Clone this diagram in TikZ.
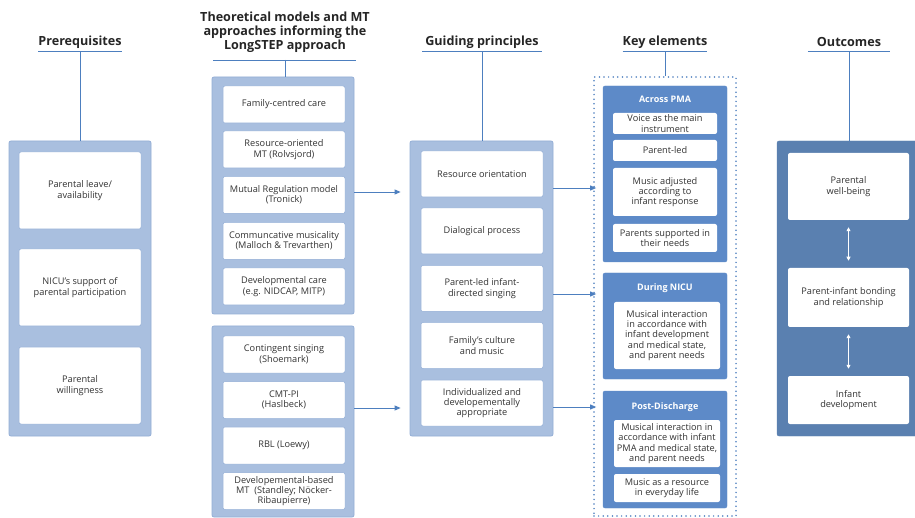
\documentclass[tikz,border=0pt]{standalone}
\usepackage{fontspec}
\setmainfont{Open Sans}
\usepackage{tikz}
\usetikzlibrary{positioning, arrows.meta}
\definecolor{paleblue}{HTML}{A9BFDF}
\definecolor{paleedge}{HTML}{93AED6}
\definecolor{midblue}{HTML}{5D8AC8}
\definecolor{outblue}{HTML}{5A80B0}
\definecolor{lineblue}{HTML}{4D7FBF}
\definecolor{txtgray}{HTML}{333333}

\tikzset{
    heading/.style={font=\bfseries\fontsize{12.6}{14}\selectfont, text=black!85, align=center, inner sep=0pt},
    panel/.style={fill=paleblue, draw=paleedge, line width=0.8pt, rounded corners=2pt},
    darkpanel/.style={fill=midblue, draw=midblue, rounded corners=2pt},
    outpanel/.style={fill=outblue, draw=outblue, rounded corners=2pt},
    item/.style={fill=white, draw=paleedge, line width=0.5pt, rounded corners=2pt, align=center,
        font=\fontsize{9.2}{10.3}\selectfont, text=txtgray, inner sep=1pt},
    paneltitle/.style={font=\bfseries\fontsize{9}{10}\selectfont, text=white, inner sep=0pt},
    link/.style={draw=lineblue, line width=0.9pt},
    arr/.style={link, -{Triangle[length=6pt, width=5pt]}},
    twoway/.style={white, line width=0.9pt, {Triangle[length=4pt, width=4pt]}-{Triangle[length=4pt, width=4pt]}, shorten <=7pt, shorten >=7pt}
}

\begin{document}
\begin{tikzpicture}[x=1pt, y=-1pt]
    \useasboundingbox[fill=white] (0,0) rectangle (915,518);

    % headings
    \node[heading, minimum width=81pt, minimum height=18pt] (hpre) at (80,42) {Prerequisites};
    \node[heading, minimum width=143pt] (htheo) at (285,32) {Theoretical models and MT\\approaches informing the\\LongSTEP approach};
    \node[heading, minimum width=119pt, minimum height=18pt] (hguide) at (482,42) {Guiding principles};
    \node[heading, minimum width=82pt, minimum height=18pt] (hkey) at (665,42) {Key elements};
    \node[heading, minimum width=82pt, minimum height=18pt] (hout) at (849,42) {Outcomes};
    \coordinate (htheoL) at (213,60);
    \coordinate (htheoR) at (356,60);

    % prerequisites
    \node[panel, minimum width=142pt, minimum height=295pt] (pre) at (80,288.5) {};
    \node[item, minimum width=122pt, minimum height=77pt] (pre1) at (80,190.5) {Parental leave/\\availability};
    \node[item, minimum width=122pt, minimum height=77pt] (pre2) at (80,287.5) {NICU's support of\\parental participation};
    \node[item, minimum width=122pt, minimum height=77pt] (pre3) at (80,385.5) {Parental\\willingness};

    % theoretical models
    \node[panel, minimum width=142pt, minimum height=237pt] (theoA) at (283,195.5) {};
    \node[item, minimum width=122pt, minimum height=37pt] (ta1) at (284,104.5) {Family-centred care};
    \node[item, minimum width=122pt, minimum height=37pt] (ta2) at (284,149.5) {Resource-oriented\\MT (Rolvsjord)};
    \node[item, minimum width=122pt, minimum height=37pt] (ta3) at (284,195) {Mutual Regulation model\\(Tronick)};
    \node[item, minimum width=122pt, minimum height=37pt] (ta4) at (284,241) {Communcative musicality\\(Malloch \& Trevarthen)};
    \node[item, minimum width=122pt, minimum height=37pt] (ta5) at (284,286.5) {Developmental care\\(e.g. NIDCAP, MITP)};

    \node[panel, minimum width=142pt, minimum height=191pt] (theoB) at (283,421.5) {};
    \node[item, minimum width=122pt, minimum height=37pt] (tb1) at (284,354.5) {Contingent singing\\(Shoemark)};
    \node[item, minimum width=122pt, minimum height=37pt] (tb2) at (284,400) {CMT-PI\\(Haslbeck)};
    \node[item, minimum width=122pt, minimum height=37pt] (tb3) at (284,445.5) {RBL (Loewy)};
    \node[item, minimum width=122pt, minimum height=37pt] (tb4) at (284,491) {Developemental-based\\MT\ \ (Standley; Nöcker-\\Ribaupierre)};

    % guiding principles
    \node[panel, minimum width=143pt, minimum height=295pt] (guide) at (481.5,288.5) {};
    \node[item, minimum width=122pt, minimum height=46pt] (gp1) at (482,174) {Resource orientation};
    \node[item, minimum width=122pt, minimum height=46pt] (gp2) at (482,231) {Dialogical process};
    \node[item, minimum width=122pt, minimum height=46pt] (gp3) at (482,288.5) {Parent-led infant-\\directed singing};
    \node[item, minimum width=122pt, minimum height=46pt] (gp4) at (482,345.5) {Family's culture\\and music};
    \node[item, minimum width=122pt, minimum height=46pt] (gp5) at (482,403) {Individualized and\\developementally\\appropriate};

    % key elements
    \node[draw=lineblue, line width=1.7pt, dash pattern=on 0pt off 4.6pt, line cap=round,
          minimum width=142pt, minimum height=439pt] (keys) at (665,296.5) {};

    \node[darkpanel, minimum width=124pt, minimum height=176pt] (pma) at (665,174) {};
    \node[paneltitle] (pmat) at (665,99) {Across PMA};
    \node[item, draw=none, minimum width=104pt, minimum height=21pt] (pma1) at (665,123.5) {Voice as the main\\instrument};
    \node[item, draw=none, minimum width=104pt, minimum height=21pt] (pma2) at (665,150.5) {Parent-led};
    \node[item, draw=none, minimum width=104pt, minimum height=48pt] (pma3) at (665,192) {Music adjusted\\according to\\infant response};
    \node[item, draw=none, minimum width=104pt, minimum height=28pt] (pma4) at (665,238) {Parents supported in\\their needs};

    \node[darkpanel, minimum width=124pt, minimum height=106pt] (nicu) at (665,326) {};
    \node[paneltitle] (nicut) at (665,288) {During NICU};
    \node[item, draw=none, minimum width=106pt, minimum height=67pt] (nicu1) at (667,335.5) {Musical interaction\\in accordance with\\infant development\\and medical state,\\and parent needs};

    \node[darkpanel, minimum width=124pt, minimum height=117pt] (post) at (665,449.5) {};
    \node[paneltitle] (postt) at (665,407) {Post-Discharge};
    \node[item, draw=none, minimum width=106pt, minimum height=47pt] (post1) at (667,443.5) {Musical interaction in\\accordance with infant\\PMA and medical state,\\and parent needs};
    \node[item, draw=none, minimum width=106pt, minimum height=28pt] (post2) at (667,488) {Music as a resource\\in everyday life};

    % outcomes
    \node[outpanel, minimum width=145pt, minimum height=295pt] (out) at (849.5,288.5) {};
    \node[item, draw=none, minimum width=121pt, minimum height=67pt] (out1) at (848.5,186.5) {Parental\\well-being};
    \node[item, draw=none, minimum width=121pt, minimum height=59pt] (out2) at (848.5,297.5) {Parent-infant bonding\\and relationship};
    \node[item, draw=none, minimum width=121pt, minimum height=48pt] (out3) at (848.5,400) {Infant\\development};

    % heading rules and stems
    \draw[link] (hpre.south west) -- (hpre.south east);
    \draw[link] (hpre.south) -- (pre.north);
    \draw[link] (htheoL) -- (htheoR);
    \draw[link] (htheoL -| htheo.south) -- (htheo.south |- theoA.north);
    \draw[link] (hguide.south west) -- (hguide.south east);
    \draw[link] (hguide.south) -- (hguide.south |- guide.north);
    \draw[link] (hkey.south west) -- (hkey.south east);
    \draw[link] (hkey.south) -- (keys.north);
    \draw[link] (hout.south west) -- (hout.south east);
    \draw[link] (hout.south) -- (hout.south |- out.north);

    % arrows
    \draw[arr, shorten >=9pt] ([yshift=3.5pt]theoA.east) -- ([yshift=3.5pt]theoA.east -| guide.west);
    \draw[arr, shorten >=9pt] ([yshift=13.5pt]theoB.east) -- ([yshift=13.5pt]theoB.east -| guide.west);
    \draw[arr, shorten >=-3pt] ([yshift=100.5pt]guide.east) -- ([yshift=100.5pt]guide.east -| keys.west);
    \draw[arr, shorten >=-3pt] ([yshift=-5.5pt]guide.east) -- ([yshift=-5.5pt]guide.east -| keys.west);
    \draw[arr, shorten >=-3pt] ([yshift=-118.5pt]guide.east) -- ([yshift=-118.5pt]guide.east -| keys.west);

    \draw[twoway] (out1.south) -- (out2.north);
    \draw[twoway] (out2.south) -- (out3.north);
\end{tikzpicture}
\end{document}
